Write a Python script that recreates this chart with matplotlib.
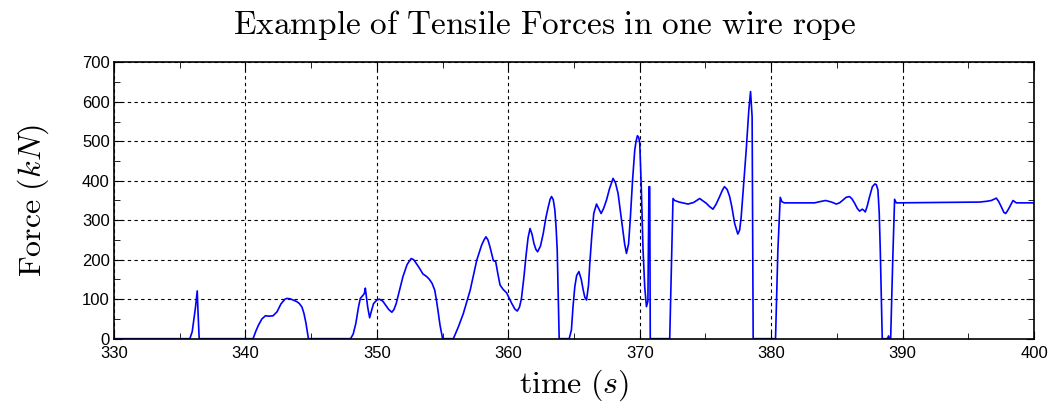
import matplotlib
matplotlib.use('Agg')
import matplotlib.pyplot as plt
from matplotlib.ticker import MultipleLocator

plt.rcParams['mathtext.fontset'] = 'cm'
plt.rcParams['font.family'] = ['Liberation Sans', 'DejaVu Sans']

# time (s) and tensile force (kN)
t = [330.0, 335.77, 335.95, 336.2, 336.33, 336.4, 336.48, 340.58, 340.8, 341.0, 341.25, 341.52,
     341.8, 342.1, 342.4, 342.7, 343.0, 343.16, 343.4, 343.62, 343.9, 344.1, 344.3, 344.45,
     344.6, 344.79, 348.0, 348.2, 348.4, 348.6, 348.74, 348.97, 349.05, 349.12, 349.3, 349.45,
     349.6, 349.75, 350.0, 350.2, 350.45, 350.66, 350.9, 351.14, 351.3, 351.47, 351.7, 351.98,
     352.3, 352.61, 352.8, 352.99, 353.25, 353.5, 353.8, 354.0, 354.2, 354.4, 354.52, 354.64,
     354.8, 355.0, 355.82, 356.2, 356.58, 357.1, 357.6, 357.97, 358.15, 358.3, 358.45, 358.6,
     358.86, 359.04, 359.2, 359.37, 359.6, 359.87, 360.25, 360.5, 360.68, 360.85, 361.0, 361.2,
     361.34, 361.5, 361.65, 361.8, 361.95, 362.1, 362.23, 362.45, 362.66, 362.85, 363.04, 363.18,
     363.29, 363.42, 363.54, 363.63, 363.72, 363.8, 363.87, 364.63, 364.8, 364.92, 365.06,
     365.2, 365.37, 365.55, 365.7, 365.82, 365.95, 366.1, 366.2, 366.35, 366.5, 366.71, 366.9,
     367.06, 367.25, 367.47, 367.7, 367.97, 368.15, 368.35, 368.5, 368.68, 368.85, 368.99,
     369.15, 369.29, 369.45, 369.62, 369.72, 369.82, 369.92, 370.0, 370.12, 370.25, 370.38,
     370.51, 370.62, 370.7, 370.76, 370.8, 372.28, 372.53, 372.66, 373.0, 373.67, 374.1,
     374.56, 375.06, 375.3, 375.57, 375.8, 376.08, 376.3, 376.45, 376.65, 376.84, 377.0, 377.22,
     377.46, 377.6, 377.72, 377.9, 378.1, 378.3, 378.43, 378.55, 378.63, 380.33, 380.51, 380.69,
     380.81, 381.0, 382.4, 383.3, 383.7, 384.14, 384.6, 384.95, 385.2, 385.46, 385.7, 385.96,
     386.15, 386.35, 386.55, 386.73, 386.93, 387.05, 387.16, 387.3, 387.49, 387.7, 387.89,
     388.0, 388.12, 388.22, 388.3, 388.45, 388.85, 388.93, 389.0, 389.09, 389.25, 389.39,
     389.52, 395.86, 396.4, 396.75, 396.95, 397.13, 397.3, 397.51, 397.7, 397.84, 398.0, 398.15,
     398.4, 398.65, 400.0]
force = [0, 0, 18, 80, 121, 60, 0, 0, 20, 35, 50, 58,
         57, 58, 68, 88, 100, 102, 101, 98, 94, 89, 80, 64,
         40, 0, 0, 12, 39, 80, 102, 111, 115, 128, 80, 53,
         72, 89, 98, 100, 95, 85, 74, 67, 74, 89, 120, 157,
         188, 203, 200, 191, 178, 164, 157, 150, 140, 123, 100, 73,
         35, 0, 0, 30, 64, 123, 199, 237, 250, 258, 250, 233,
         198, 195, 165, 136, 125, 116, 90, 75, 70, 80, 102, 160,
         208, 255, 279, 265, 241, 226, 220, 235, 267, 305, 334, 353,
         360, 352, 326, 285, 225, 110, 0, 0, 22, 80, 132,
         160, 170, 150, 123, 105, 98, 135, 191, 260, 317, 341, 328,
         317, 330, 351, 380, 406, 395, 368, 330, 284, 240, 216,
         240, 309, 400, 478, 500, 514, 510, 495, 380, 225, 130,
         81, 95, 385, 385, 0, 0, 355, 350, 346, 341, 345,
         355, 343, 335, 328, 340, 360, 377, 385, 378, 360, 335, 292,
         265, 275, 309, 390, 478, 580, 626, 562, 0, 0, 225, 358,
         347, 344, 344, 344, 347, 350, 346, 341, 344, 351, 358, 360,
         354, 343, 330, 323, 328, 325, 321, 335, 360, 385, 392,
         390, 377, 320, 225, 0, 0, 7, 0, 0, 200, 353,
         344, 346, 348, 350, 353, 356, 348, 334, 320, 317, 325, 334,
         350, 344, 344]

fig = plt.figure(figsize=(10.5, 4.03), dpi=100)
ax = fig.add_axes([0.1086, 0.1596, 0.8762, 0.6858])
ax.plot(t, force, color='#0000ff', linewidth=1.2)

ax.set_xlim(330, 400)
ax.set_ylim(0, 700)
ax.xaxis.set_major_locator(MultipleLocator(10))
ax.xaxis.set_minor_locator(MultipleLocator(5))
ax.yaxis.set_major_locator(MultipleLocator(100))
ax.yaxis.set_minor_locator(MultipleLocator(50))
ax.tick_params(which='both', direction='in', top=True, right=True, labelsize=12)
ax.tick_params(which='major', length=6, pad=3)
ax.tick_params(axis='x', which='major', pad=5)
ax.tick_params(which='minor', length=4)
ax.grid(True, which='major', color='black', linestyle='--', linewidth=0.8, dashes=(3, 3))
for s in ax.spines.values():
    s.set_linewidth(1.2)

fig.text(0.519, 0.937, r'$\mathrm{Example\ of\ Tensile\ Forces\ in\ one\ wire\ rope}$',
         fontsize=24, ha='center', va='center')
ax.set_xlabel(r'$\mathrm{time}\ (s)$', fontsize=23, labelpad=5)
ax.set_ylabel(r'$\mathrm{Force}\ (kN)$', fontsize=23, labelpad=22)

fig.savefig('out.png', dpi=100)
